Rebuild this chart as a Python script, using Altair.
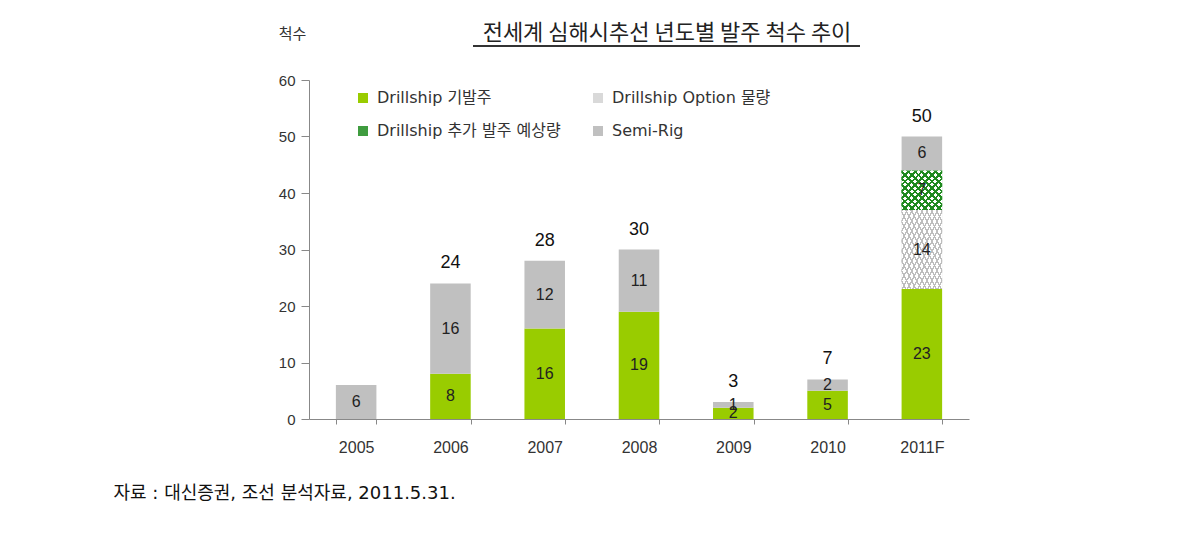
import altair as alt
import pandas as pd

# ---------------- data ----------------
years = ["2005", "2006", "2007", "2008", "2009", "2010", "2011F"]
series_names = ["Drillship 기발주", "Drillship Option 물량", "Drillship 추가 발주 예상량", "Semi-Rig"]
drill_ordered = [0, 8, 16, 19, 2, 5, 23]
drill_option = [0, 0, 0, 0, 0, 0, 14]
drill_extra = [0, 0, 0, 0, 0, 0, 7]
semi_rig = [6, 16, 12, 11, 1, 2, 6]
total_labels = [None, 24, 28, 30, 3, 7, 50]

TITLE = "전세계 심해시추선 년도별 발주 척수 추이"
Y_TITLE = "척수"
SOURCE = "자료 : 대신증권, 조선 분석자료, 2011.5.31."

# ---------------- build tables ----------------
rows = []
for i, yr in enumerate(years):
    base = 0
    for name, vals in zip(series_names, [drill_ordered, drill_option, drill_extra, semi_rig]):
        v = vals[i]
        if v > 0:
            rows.append({"year": yr, "series": name, "value": v,
                         "y0": base, "y1": base + v, "mid": base + v / 2})
            base += v
seg = pd.DataFrame(rows)
tot = pd.DataFrame({"year": years, "total": total_labels}).dropna()

colors = ["#99cc00", "#d9d9d9", "#3f9c3f", "#c0c0c0"]
LATIN = "Liberation Sans"
KFONT = "Noto Sans CJK KR"
MIXED = "DejaVu Sans, Noto Sans CJK KR"


def stripes(color, n, frac):
    clear = "rgba(255,255,255,0)"
    stops = []
    for k in range(n):
        a = k / n
        b = min((k + frac) / n, 1.0)
        c = (k + 1) / n
        stops += [{"offset": a, "color": color}, {"offset": b, "color": color},
                  {"offset": b, "color": clear}, {"offset": c, "color": clear}]
    return stops


def grad(color, n, frac, flip):
    g = {"gradient": "linear", "stops": stripes(color, n, frac)}
    if flip:
        g.update({"x1": 1, "y1": 0, "x2": 0, "y2": 1})
    else:
        g.update({"x1": 0, "y1": 0, "x2": 1, "y2": 1})
    return g


x_axis = alt.Axis(
    title=SOURCE, titleX=-196, titleY=74, titleAlign="left", titleBaseline="middle",
    titleFont=MIXED, titleFontSize=18, titleFontWeight="normal", titleColor="#111",
    labelAngle=0, labelFont=LATIN, labelFontSize=16, labelColor="#333", labelPadding=15,
    tickBand="extent", tickSize=5, tickColor="#888", domainColor="#888", grid=False,
)
y_axis = alt.Axis(
    title=Y_TITLE, titleAngle=0, titleX=-17, titleY=-47, titleAlign="center",
    titleBaseline="middle", titleFont=KFONT, titleFontSize=15, titleFontWeight="normal",
    titleColor="#333", values=[0, 10, 20, 30, 40, 50, 60], labelFont=LATIN,
    labelFontSize=15, labelColor="#333", labelPadding=6, tickSize=8, tickColor="#888",
    domainColor="#888", grid=False,
)
x_scale = alt.Scale(paddingInner=0.57, paddingOuter=0.285)
y_scale = alt.Scale(domain=[0, 60], nice=False)


def X():
    return alt.X("year:N", sort=years, scale=x_scale, axis=x_axis)


def Y(field):
    return alt.Y(field, scale=y_scale, axis=y_axis)


bars = alt.Chart(seg).mark_bar().encode(
    x=X(), y=Y("y0:Q"), y2="y1:Q",
    color=alt.Color("series:N", sort=series_names,
                    scale=alt.Scale(domain=series_names, range=colors),
                    legend=alt.Legend(
                        title=None, orient="none", legendX=46, legendY=10, columns=2,
                        direction="horizontal",
                        symbolType="square", symbolSize=100, symbolStrokeWidth=0,
                        labelFont=MIXED, labelFontSize=16,
                        labelColor="#333", labelLimit=400, labelOffset=6,
                        rowPadding=17, columnPadding=29)),
)

patterned = seg[seg["series"].isin(series_names[1:3])]
white = alt.Chart(patterned).mark_bar(color="white").encode(x=X(), y=Y("y0:Q"), y2="y1:Q")

opt = seg[seg["series"] == series_names[1]]
ext = seg[seg["series"] == series_names[2]]
opt_a = alt.Chart(opt).mark_bar(color=grad("#bdbdbd", 16, 0.3, False)).encode(x=X(), y=Y("y0:Q"), y2="y1:Q")
opt_b = alt.Chart(opt).mark_bar(color=grad("#bdbdbd", 16, 0.3, True)).encode(x=X(), y=Y("y0:Q"), y2="y1:Q")
ext_a = alt.Chart(ext).mark_bar(color=grad("#1f8a1f", 12, 0.4, False)).encode(x=X(), y=Y("y0:Q"), y2="y1:Q")
ext_b = alt.Chart(ext).mark_bar(color=grad("#1f8a1f", 12, 0.4, True)).encode(x=X(), y=Y("y0:Q"), y2="y1:Q")

seg_labels = alt.Chart(seg).mark_text(font=LATIN, fontSize=16, color="#222", baseline="middle").encode(
    x=X(), y=Y("mid:Q"), text="value:Q")

tot_labels = alt.Chart(tot).mark_text(font=LATIN, fontSize=18, color="#111", baseline="middle", dy=-20).encode(
    x=X(), y=Y("total:Q"), text="total:Q")

title = alt.Chart(pd.DataFrame({"t": [TITLE]})).mark_text(
    font=KFONT, fontSize=22, color="#222", align="center", baseline="middle"
).encode(text="t:N", x=alt.value(358), y=alt.value(-47))

underline = alt.Chart(pd.DataFrame({"t": [TITLE]})).mark_rule(color="#333", strokeWidth=2).encode(
    x=alt.value(164), x2=alt.value(551), y=alt.value(-34))

chart = alt.layer(
    bars, white, opt_a, opt_b, ext_a, ext_b, seg_labels, tot_labels, title, underline
).properties(
    width=660, height=339,
    padding={"left": 301, "top": 72, "right": 200, "bottom": 112},
    autosize=alt.AutoSizeParams(type="none"),
    background="white",
).configure_view(stroke=None)

chart.save("out.html", embed_options={"renderer": "svg", "actions": False})
